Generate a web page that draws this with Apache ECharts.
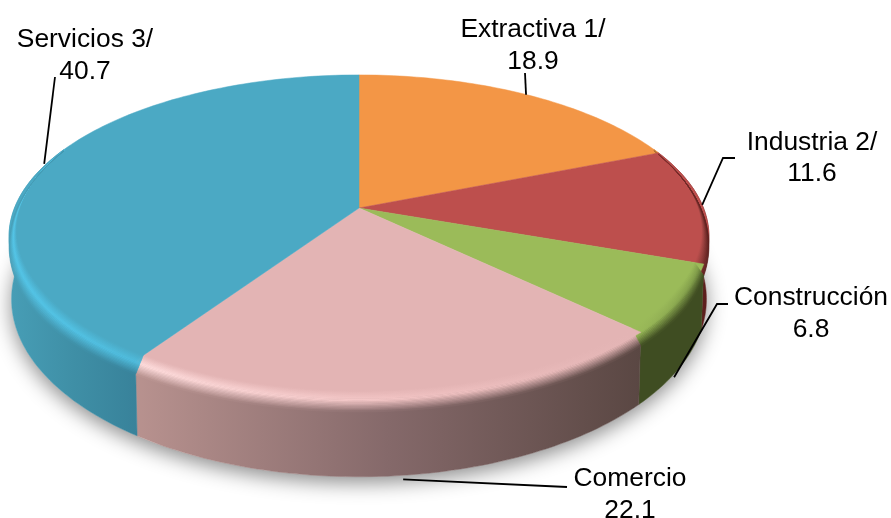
<!DOCTYPE html>
<html>
<head>
<meta charset="utf-8">
<style>
  html, body { margin: 0; padding: 0; background: #fff; }
  #chart { width: 891px; height: 518px; }
</style>
<script src="https://cdn.jsdelivr.net/npm/echarts@6/dist/echarts.min.js"></script>
</head>
<body>
<div id="chart"></div>
<script>
const names = ['Extractiva 1/', 'Industria 2/', 'Construcción', 'Comercio', 'Servicios 3/'];
const values = [18.9, 11.6, 6.8, 22.1, 40.7];

const topColors = ['#F39646', '#BD4F4D', '#9BBB59', '#E3B4B4', '#4BA9C4'];
// wall and bevel colours run left to right across each slice
const wallStops = [
  ['#A86A30', '#A86A30', '#A86A30'],
  ['#7A2A28', '#6A2422', '#5A1E1C'],
  ['#3F4D22', '#3F4D22', '#3F4D22'],
  ['#B8928F', '#85696A', '#5A4743'],
  ['#479EB6', '#3F8FA6', '#38829A']
];
const bevelStops = [
  ['#F39646', '#F39646', '#F39646'],
  ['#BD4F4D', '#A84644', '#8C3A38'],
  ['#9BBB59', '#8FAD52', '#7E9A48'],
  ['#FFDDDD', '#F4C6C6', '#E3B4B4'],
  ['#54C6E8', '#52C2E4', '#4FBCDD']
];

// text anchors and leader elbows, the first leader point comes from the slice angle
const labelPos = [
  { x: 533, y: 45.5, tip: [-1, 0], leader: [[525, 73]] },
  { x: 812, y: 158, tip: [0, 0], leader: [[723, 158], [735, 158]] },
  { x: 811, y: 313.5, tip: [-5, 9], leader: [[717, 304], [728, 304]] },
  { x: 630, y: 494.5, tip: [0, 4], leader: [[567, 487]] },
  { x: 85, y: 55.5, tip: [-1, -1], leader: [[55, 77]] }
];

const total = values.reduce((a, b) => a + b, 0);
const cum = [0];
values.forEach((v, i) => cum.push(cum[i] + v));
const angle = (c) => (c / total) * Math.PI * 2;

// perspective of the tilted disc
const hubX = 359, hubY = 208, persp = 0.176;
const topA = 344.5, topB = 156.5;
const lowA = 342, lowB = 172, lowY = 268;
// only this part of the rim can show a wall or a bevel
const rimFrom = 1.16, rimTo = Math.PI * 2 - 1.16;

function topPoint(t, r) {
  const X = r * Math.sin(t), Z = r * Math.cos(t), w = 1 + persp * Z;
  return [hubX + topA * X / w, hubY - topB * Z / w];
}
function lowPoint(t) {
  const X = Math.sin(t), Z = Math.cos(t), w = 1 + persp * Z;
  return [hubX + lowA * X / w, lowY - lowB * Z / w];
}
function arc(t0, t1, fn) {
  const n = Math.max(2, Math.ceil((t1 - t0) / 0.02));
  const out = [];
  for (let i = 0; i <= n; i++) out.push(fn(t0 + (t1 - t0) * i / n));
  return out;
}
function gradient(colors) {
  return new echarts.graphic.LinearGradient(0, 0, 1, 0, colors.map((c, i) => ({
    offset: i / (colors.length - 1), color: c
  })));
}
function mixHex(a, b, f) {
  const pa = parseInt(a.slice(1), 16), pb = parseInt(b.slice(1), 16);
  const ch = (s) => Math.round(((pa >> s) & 255) * (1 - f) + ((pb >> s) & 255) * f);
  return 'rgb(' + ch(16) + ',' + ch(8) + ',' + ch(0) + ')';
}
// bevel profile: flat top > highlight > wall
function bevelColor(i, k, s) {
  const top = topColors[i], hi = bevelStops[i][k], wall = wallStops[i][k];
  if (s < 0.45) return mixHex(top, hi, s / 0.45);
  return mixHex(hi, wall, (s - 0.45) / 0.55);
}

function bevelFade(t) {
  return Math.max(0, Math.min(1, 0.5 - Math.cos(t)));
}
function bevelPoint(t, s) {
  const f = bevelFade(t);
  const p = topPoint(t, 1 - 0.03 * f * (1 - s));
  return [p[0], p[1] + 14 * f * s];
}

function renderShadow() {
  return {
    type: 'polygon',
    shape: { points: arc(0, Math.PI * 2, lowPoint) },
    style: { fill: '#fff', shadowColor: 'rgba(0,0,0,0.45)', shadowBlur: 20, shadowOffsetY: 6 }
  };
}

function renderWall(params, api) {
  const i = api.value(0);
  const t0 = Math.max(angle(cum[i]), rimFrom), t1 = Math.min(angle(cum[i + 1]), rimTo);
  if (t1 <= t0) return null;
  const up = arc(t0, t1, (t) => topPoint(t, 1));
  const low = arc(t0, t1, lowPoint).reverse();
  const fill = gradient(wallStops[i]);
  return {
    type: 'polygon',
    shape: { points: up.concat(low) },
    style: { fill: fill, stroke: fill, lineWidth: 0.5 }
  };
}

function renderTop(params, api) {
  const i = api.value(0);
  const t0 = angle(cum[i]), t1 = angle(cum[i + 1]);
  const children = [{
    type: 'polygon',
    shape: { points: [[hubX, hubY]].concat(arc(t0, t1, (t) => topPoint(t, 1))) },
    style: { fill: topColors[i], stroke: topColors[i], lineWidth: 0.5 }
  }];
  const b0 = Math.max(t0, rimFrom), b1 = Math.min(t1, rimTo);
  const strips = 16;
  for (let s = 0; b1 > b0 && s < strips; s++) {
    const fill = gradient([0, 1, 2].map((k) => bevelColor(i, k, (s + 0.5) / strips)));
    const a = arc(b0, b1, (t) => bevelPoint(t, s / strips));
    const b = arc(b0, b1, (t) => bevelPoint(t, (s + 1) / strips)).reverse();
    children.push({
      type: 'polygon',
      shape: { points: a.concat(b) },
      style: { fill: fill, stroke: fill, lineWidth: 0.6 }
    });
  }
  return { type: 'group', children: children };
}

function renderLabel(params, api) {
  const i = api.value(0);
  const pos = labelPos[i];
  const mid = angle((cum[i] + cum[i + 1]) / 2);
  const rim = Math.cos(mid) < -0.3 ? lowPoint(mid) : topPoint(mid, 1);
  const start = [rim[0] + pos.tip[0], rim[1] + pos.tip[1]];
  return {
    type: 'group',
    children: [{
      type: 'polyline',
      shape: { points: [start].concat(pos.leader) },
      style: { fill: 'none', stroke: '#000', lineWidth: 1.8 }
    }, {
      type: 'text',
      style: {
        text: names[i] + '\n' + values[i].toFixed(1),
        x: pos.x,
        y: pos.y,
        align: 'center',
        verticalAlign: 'middle',
        fill: '#000',
        font: '26.4px "Liberation Sans", Arial, sans-serif',
        lineHeight: 31.5
      }
    }]
  };
}

const rows = names.map((n, i) => [i, values[i]]);
const myChart = echarts.init(document.getElementById('chart'), null, { renderer: 'canvas' });
myChart.setOption({
  animation: false,
  backgroundColor: '#fff',
  tooltip: { show: false },
  series: [
    { type: 'custom', coordinateSystem: 'none', silent: true, data: [[0]], renderItem: renderShadow, z: 1 },
    { type: 'custom', coordinateSystem: 'none', silent: true, data: rows, renderItem: renderWall, z: 2 },
    { type: 'custom', coordinateSystem: 'none', silent: true, data: rows, renderItem: renderTop, z: 3 },
    { type: 'custom', coordinateSystem: 'none', silent: true, data: rows, renderItem: renderLabel, z: 4 }
  ]
});
</script>
</body>
</html>
